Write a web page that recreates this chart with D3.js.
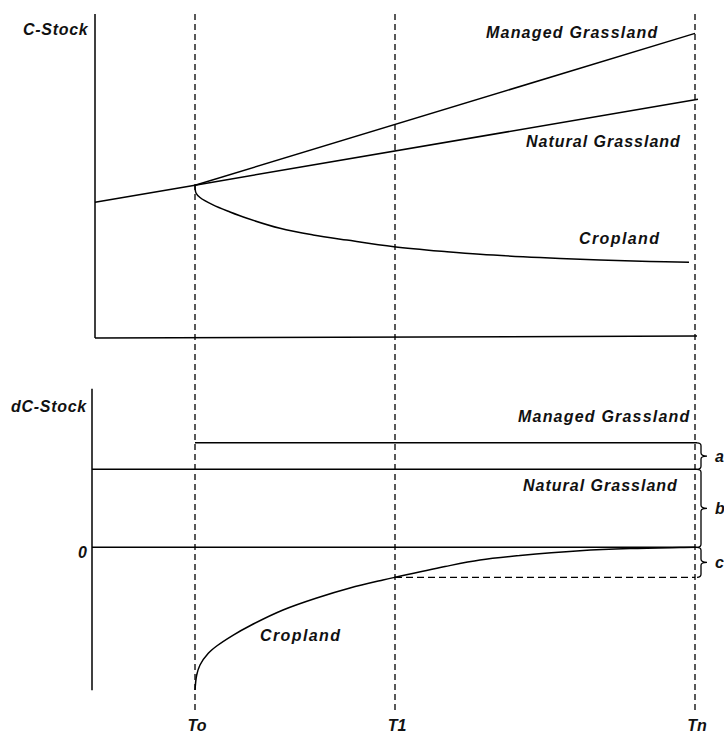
<!DOCTYPE html>
<html>
<head>
<meta charset="utf-8">
<script src="https://cdn.jsdelivr.net/npm/d3@7"></script>
<style>
  html, body { margin: 0; padding: 0; background: #fff; }
  svg { display: block; }
  text { font-family: "Liberation Sans", Arial, sans-serif; font-weight: bold; font-style: italic; fill: #111; }
</style>
</head>
<body>
<svg id="chart" width="724" height="733"></svg>
<script>
// ---------- data ----------
const tickNames = ["To", "T1", "Tn"];
const tickTimes = [0, 40, 100];

// Top panel: C-Stock over time
const naturalStock = [[-20, 41.7], [0, 47.0], [100.6, 73.6]];
const managedStock = [[0, 47.0], [100, 94.0]];
const croplandStock = [
  [0, 47.06], [0.2, 44.6], [1, 43.2], [3.6, 40.9], [7, 38.7], [10.4, 36.75],
  [17, 33.65], [23.6, 31.6], [30.4, 30.0], [39.8, 27.96], [50.4, 26.4], [57, 25.6],
  [69, 24.6], [81, 23.84], [91, 23.37], [98.8, 23.13]
];

// Bottom panel: dC-Stock over time
const managedRate = [[0, 20.1], [100.4, 20.1]];
const naturalRate = [[-20.6, 15.0], [100.4, 15.0]];
const zeroRate = [[-20.6, 0], [100.4, 0]];
const croplandRate = [
  [0, -27.44], [0.34, -24.56], [1, -22.63], [2.66, -20.38], [4.34, -18.98], [7.66, -16.87],
  [11, -15.08], [17.6, -12.06], [24.34, -9.75], [31, -7.83], [37.6, -6.29], [40, -5.77],
  [50, -3.7], [57, -2.44], [65, -1.58], [77, -0.65], [87, -0.23], [97, -0.04], [100, 0]
];
const braceNames = ["a", "b", "c"];

// ---------- layout ----------
const svg = d3.select("#chart");
const x = d3.scaleLinear().domain([-20, 100.4]).range([95, 697]);
const yTop = d3.scaleLinear().domain([0, 100]).range([337, 14]);
const yBot = d3.scaleLinear().domain([-27.5, 30.5]).range([690.3, 388.7]);

const lineTop = d3.line().x(d => x(d[0])).y(d => yTop(d[1]));
const lineBot = d3.line().x(d => x(d[0])).y(d => yBot(d[1]));
const curveTop = d3.line().x(d => x(d[0])).y(d => yTop(d[1])).curve(d3.curveCatmullRom.alpha(0.5));
const curveBot = d3.line().x(d => x(d[0])).y(d => yBot(d[1])).curve(d3.curveCatmullRom.alpha(0.5));

const solid = sel => sel.attr("fill", "none").attr("stroke", "#000").attr("stroke-width", 1.5);

// vertical dashed time markers
svg.append("g").selectAll("line").data(tickTimes).join("line")
  .attr("x1", d => x(d)).attr("x2", d => x(d))
  .attr("y1", yTop(100)).attr("y2", 710)
  .attr("stroke", "#000").attr("stroke-width", 1.3).attr("stroke-dasharray", "6,4");

// ---------- top panel ----------
svg.append("line").attr("x1", x(-20)).attr("x2", x(-20)).attr("y1", yTop(100)).attr("y2", yTop(-0.3)).call(solid);
svg.append("line").attr("x1", x(-20)).attr("x2", x(100.4)).attr("y1", yTop(-0.3)).attr("y2", yTop(0.3)).call(solid);

svg.append("path").attr("d", lineTop(naturalStock)).call(solid);
svg.append("path").attr("d", lineTop(managedStock)).call(solid);
svg.append("path").attr("d", curveTop(croplandStock)).call(solid);

svg.append("text").attr("x", 23).attr("y", 35).attr("font-size", 16).attr("letter-spacing", 0.7).text("C-Stock");
svg.append("text").attr("x", 486).attr("y", 38).attr("font-size", 16).attr("letter-spacing", 1.2).text("Managed Grassland");
svg.append("text").attr("x", 526).attr("y", 147).attr("font-size", 16).attr("letter-spacing", 1.0).text("Natural Grassland");
svg.append("text").attr("x", 579).attr("y", 244).attr("font-size", 16).attr("letter-spacing", 1.4).text("Cropland");

// ---------- bottom panel ----------
svg.append("line").attr("x1", x(-20.6)).attr("x2", x(-20.6)).attr("y1", yBot(30.5)).attr("y2", yBot(-27.5)).call(solid);
svg.append("path").attr("d", lineBot(managedRate)).call(solid);
svg.append("path").attr("d", lineBot(naturalRate)).call(solid);
svg.append("path").attr("d", lineBot(zeroRate)).call(solid);
svg.append("path").attr("d", curveBot(croplandRate)).call(solid);

// dashed reference from T1 to Tn at the cropland rate at T1
const rateT1 = croplandRate.find(d => d[0] === tickTimes[1])[1];
svg.append("line")
  .attr("x1", x(tickTimes[1])).attr("x2", x(tickTimes[2]))
  .attr("y1", yBot(rateT1)).attr("y2", yBot(rateT1))
  .attr("stroke", "#000").attr("stroke-width", 1.3).attr("stroke-dasharray", "7,4");

svg.append("text").attr("x", 11).attr("y", 412).attr("font-size", 16).attr("letter-spacing", 0.7).text("dC-Stock");
svg.append("text").attr("x", 87).attr("y", 558).attr("font-size", 16).attr("text-anchor", "end").text("0");
svg.append("text").attr("x", 518).attr("y", 422).attr("font-size", 16).attr("letter-spacing", 1.2).text("Managed Grassland");
svg.append("text").attr("x", 523).attr("y", 491).attr("font-size", 16).attr("letter-spacing", 1.0).text("Natural Grassland");
svg.append("text").attr("x", 260).attr("y", 641).attr("font-size", 16).attr("letter-spacing", 1.4).text("Cropland");

// braces a, b, c
const braceRanges = [
  [managedRate[0][1], naturalRate[0][1]],
  [naturalRate[0][1], 0],
  [0, rateT1]
];
function bracePath(x0, y0, y1) {
  const xm = x0 + 4, tip = x0 + 10, mid = (y0 + y1) / 2, r = 3;
  return `M${x0},${y0} Q${xm},${y0} ${xm},${y0 + r} L${xm},${mid - r} Q${xm},${mid} ${tip},${mid} ` +
         `Q${xm},${mid} ${xm},${mid + r} L${xm},${y1 - r} Q${xm},${y1} ${x0},${y1}`;
}
const bx = x(100.4);
braceRanges.forEach((r, i) => {
  const y0 = yBot(r[0]), y1 = yBot(r[1]);
  svg.append("path").attr("d", bracePath(bx, y0, y1))
    .attr("fill", "none").attr("stroke", "#000").attr("stroke-width", 1.3);
  svg.append("text").attr("x", bx + 18).attr("y", (y0 + y1) / 2 + 6)
    .attr("font-size", 16).text(braceNames[i]);
});

// time tick labels
svg.append("g").selectAll("text").data(tickTimes).join("text")
  .attr("x", d => x(d) + 2).attr("y", 731)
  .attr("text-anchor", "middle").attr("font-size", 16)
  .text((d, i) => tickNames[i]);
</script>
</body>
</html>
